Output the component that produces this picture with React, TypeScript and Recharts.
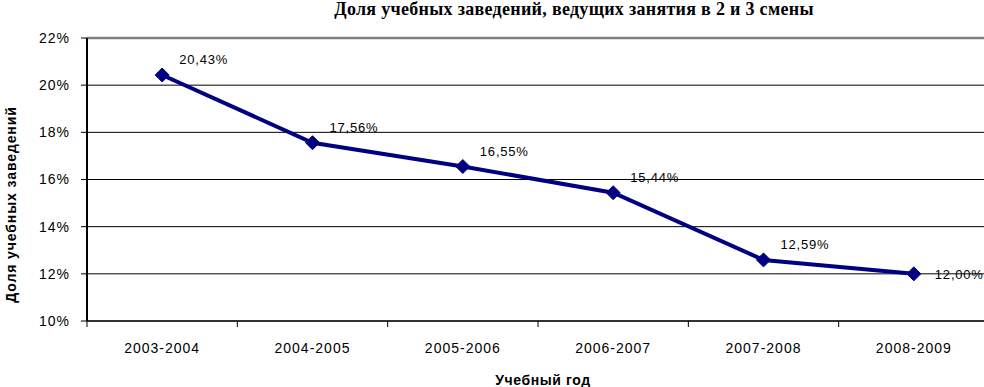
import {
  LineChart,
  Line,
  XAxis,
  YAxis,
  CartesianGrid,
  LabelList,
  Label,
  ReferenceLine,
} from "recharts";

const years = ["2003-2004", "2004-2005", "2005-2006", "2006-2007", "2007-2008", "2008-2009"];
const shares = [20.43, 17.56, 16.55, 15.44, 12.59, 12.0];
const yTicks = [10, 12, 14, 16, 18, 20, 22];

const data = years.map((year, i) => ({ year, share: shares[i] }));

const NAVY = "#000080";
const SANS = "'Liberation Sans', Arial, sans-serif";

const fmt = (v: number) => v.toFixed(2).replace(".", ",") + "%";

function Diamond(props: any) {
  const { cx, cy } = props;
  const r = 7;
  return (
    <path
      d={`M${cx},${cy - r} L${cx + r},${cy} L${cx},${cy + r} L${cx - r},${cy} Z`}
      fill={NAVY}
      stroke={NAVY}
    />
  );
}

function YearTick(props: any) {
  const { x, y, payload } = props;
  const half = payload?.offset ?? 0;
  return (
    <g>
      <line x1={x - half} y1={y - 8} x2={x - half} y2={y - 2} stroke="#000" />
      <text
        x={x}
        y={y + 24}
        textAnchor="middle"
        fontFamily={SANS}
        fontSize={14}
        letterSpacing={1}
        fill="#000"
      >
        {payload.value}
      </text>
    </g>
  );
}

function PointLabel(props: any) {
  const { x, y, value, index } = props;
  const last = index === shares.length - 1;
  return (
    <text
      x={x + (last ? 21 : 17)}
      y={y + (last ? 5 : -11)}
      fontFamily={SANS}
      fontSize={13}
      letterSpacing={0.8}
      fill="#000"
    >
      {fmt(value)}
    </text>
  );
}

function YTitle(props: any) {
  const vb = props.viewBox || { x: 0, y: 38, width: 87, height: 283 };
  const cx = vb.x + 16;
  const cy = vb.y + vb.height / 2 + 25;
  return (
    <text
      x={cx}
      y={cy}
      transform={`rotate(-90 ${cx} ${cy})`}
      textAnchor="middle"
      fontFamily={SANS}
      fontSize={14}
      fontWeight="bold"
      letterSpacing={0.9}
      fill="#000"
    >
      Доля учебных заведений
    </text>
  );
}

export default function App() {
  return (
    <div
      style={{
        position: "fixed",
        left: 0,
        top: 0,
        width: 984,
        height: 387,
        overflow: "hidden",
        background: "#fff",
      }}
    >
      <div
        style={{
          position: "absolute",
          left: 0,
          width: 1148,
          top: -1,
          textAlign: "center",
          fontFamily: "'Liberation Serif', 'Times New Roman', serif",
          fontWeight: "bold",
          fontSize: 18,
          letterSpacing: 0.3,
          color: "#000",
          whiteSpace: "nowrap",
        }}
      >
        Доля учебных заведений, ведущих занятия в 2 и 3 смены
      </div>
      <LineChart
        width={1000}
        height={387}
        data={data}
        margin={{ top: 38, right: 11, bottom: 0, left: 0 }}
        style={{ position: "absolute", left: 0, top: 0 }}
      >
        <CartesianGrid horizontal vertical={false} stroke="#000" strokeOpacity={1} />
        <ReferenceLine y={22} stroke="#808080" strokeWidth={2.5} />
        <XAxis
          dataKey="year"
          scale="band"
          height={66}
          tickLine={false}
          axisLine={{ stroke: "#333", strokeWidth: 2 }}
          tick={<YearTick />}
          interval={0}
        >
          <Label
            value="Учебный год"
            position="insideBottom"
            offset={2}
            dx={5}
            fontFamily={SANS}
            fontSize={14}
            fontWeight="bold"
            letterSpacing={0.6}
            fill="#000"
          />
        </XAxis>
        <YAxis
          domain={[10, 22]}
          ticks={yTicks}
          width={87}
          tickSize={6}
          tickMargin={11}
          tickFormatter={(v: number) => `${v}%`}
          axisLine={{ stroke: "#000", strokeWidth: 2 }}
          tickLine={{ stroke: "#000" }}
          tick={{ fontFamily: SANS, fontSize: 14, fill: "#000", letterSpacing: 1 }}
        >
          <Label content={<YTitle />} />
        </YAxis>
        <Line
          dataKey="share"
          stroke={NAVY}
          strokeWidth={4}
          dot={<Diamond />}
          activeDot={false}
          isAnimationActive={false}
        >
          <LabelList dataKey="share" content={<PointLabel />} />
        </Line>
      </LineChart>
    </div>
  );
}
